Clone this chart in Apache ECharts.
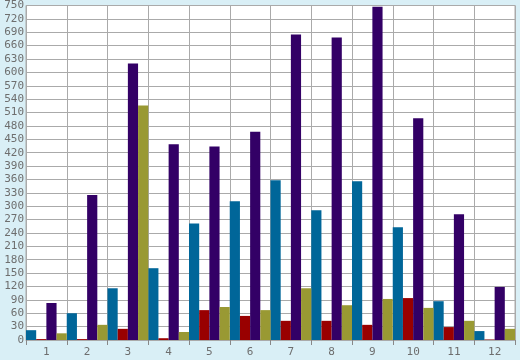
<!DOCTYPE html>
<html><head><meta charset="utf-8">
<script src="https://cdn.jsdelivr.net/npm/echarts@6/dist/echarts.min.js"></script>
<style>html,body{margin:0;padding:0;background:#d9eff6;}#c{width:520px;height:360px;}</style>
</head><body><div id="c"></div>
<script>
var categories = ['1','2','3','4','5','6','7','8','9','10','11','12'];
var seriesBlue   = [22, 60, 116, 161, 261, 311, 358, 291, 356, 253, 87, 20];
var seriesRed    = [2, 2, 25, 4, 67, 54, 43, 43, 34, 94, 29, 1];
var seriesPurple = [83, 325, 620, 439, 434, 467, 685, 678, 747, 497, 282, 119];
var seriesOlive  = [15, 34, 526, 18, 74, 67, 116, 78, 92, 72, 43, 25];
var yTicks = {min: 0, max: 750, interval: 30};

var chart = echarts.init(document.getElementById('c'), null, {renderer: 'canvas'});
var lblFont = {color: '#6e6e6e', fontFamily: 'DejaVu Sans Mono', fontSize: 11};
function bar(name, data, color) {
  return {name: name, type: 'bar', data: data, barGap: '0%', barCategoryGap: '0%',
    itemStyle: {color: color}, animation: false};
}
chart.setOption({
  backgroundColor: '#d9eff6',
  animation: false,
  grid: {left: 26, right: 5, top: 5, bottom: 20, show: true, backgroundColor: '#ffffff', borderColor: '#aaaaaa', borderWidth: 1},
  xAxis: {
    type: 'category', data: categories, boundaryGap: true,
    axisLine: {show: true, lineStyle: {color: '#aaaaaa'}},
    axisTick: {show: true, length: 5, lineStyle: {color: '#888888'}},
    splitLine: {show: true, lineStyle: {color: '#aaaaaa', width: 1}},
    axisLabel: Object.assign({margin: 7}, lblFont)
  },
  yAxis: {
    type: 'value', min: yTicks.min, max: yTicks.max, interval: yTicks.interval,
    axisLine: {show: false}, axisTick: {show: false},
    splitLine: {show: true, lineStyle: {color: '#aaaaaa', width: 1}},
    axisLabel: Object.assign({margin: 2}, lblFont)
  },
  series: [
    bar('A', seriesBlue, '#006699'),
    bar('B', seriesRed, '#990000'),
    bar('C', seriesPurple, '#330066'),
    bar('D', seriesOlive, '#999933')
  ]
});
</script></body></html>
